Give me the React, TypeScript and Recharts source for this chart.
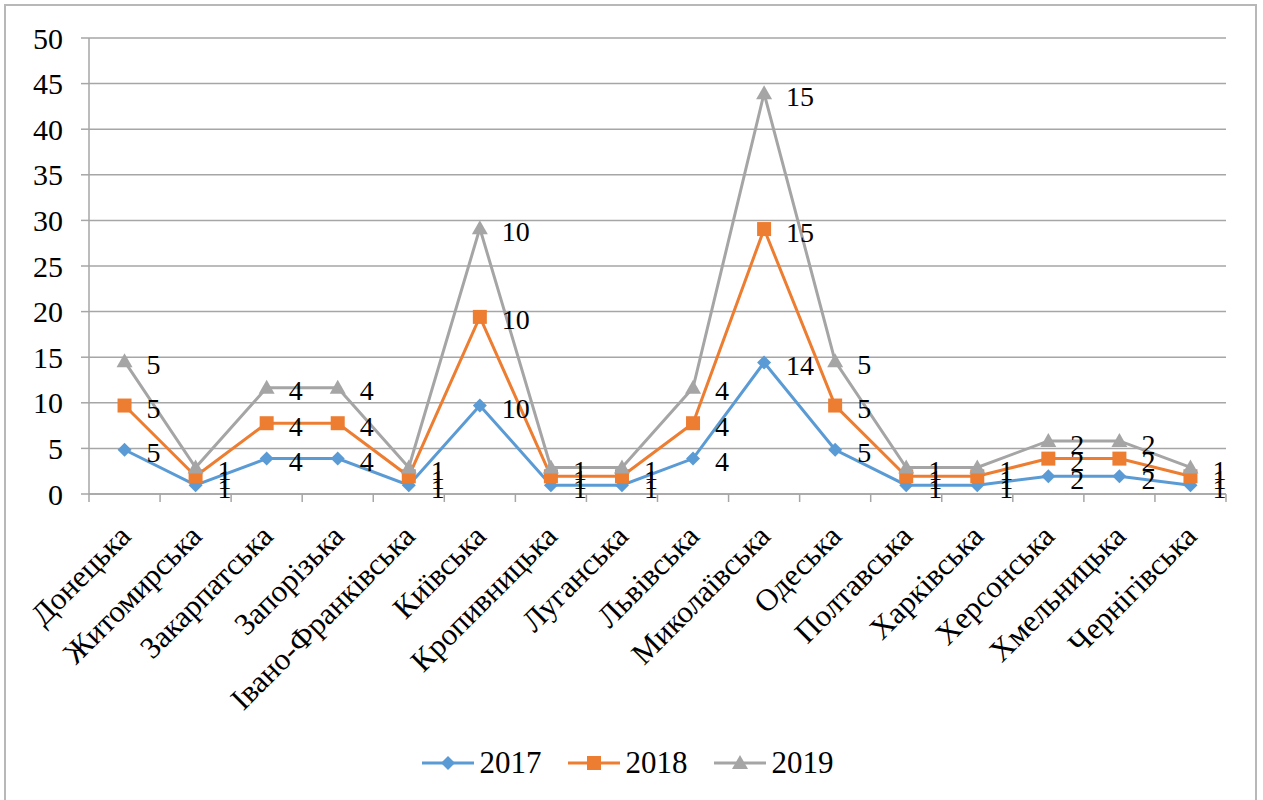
import React from 'react';
import { LineChart, Line, XAxis, YAxis, CartesianGrid, Legend, LabelList } from 'recharts';

const categories = [
  'Донецька', 'Житомирська', 'Закарпатська', 'Запорізька', 'Івано-Франківська',
  'Київська', 'Кропивницька', 'Луганська', 'Львівська', 'Миколаївська',
  'Одеська', 'Полтавська', 'Харківська', 'Херсонська', 'Хмельницька', 'Чернігівська',
];
const values2017 = [4.85, 0.97, 3.88, 3.88, 0.97, 9.71, 0.97, 0.97, 3.88, 14.42, 4.85, 0.97, 0.97, 1.94, 1.94, 0.97];
const values2018 = [4.85, 0.97, 3.88, 3.88, 0.97, 9.71, 0.97, 0.97, 3.88, 14.63, 4.85, 0.97, 0.97, 1.94, 1.94, 0.97];
const values2019 = [4.85, 0.97, 3.88, 3.88, 0.97, 9.71, 0.97, 0.97, 3.88, 14.89, 4.85, 0.97, 0.97, 1.94, 1.94, 0.97];
const yTicks = [0, 5, 10, 15, 20, 25, 30, 35, 40, 45, 50];

const FONT = '"Liberation Serif", "Times New Roman", serif';
const GRID = '#a6a6a6';
const BLUE = '#5b9bd5';
const ORANGE = '#ed7d31';
const GRAY = '#a5a5a5';

// stacked line: each series sits on top of the previous one
const chartData = categories.map((name, i) => ({
  name,
  r2017: values2017[i],
  r2018: values2018[i],
  r2019: values2019[i],
  s2017: values2017[i],
  s2018: values2017[i] + values2018[i],
  s2019: values2017[i] + values2018[i] + values2019[i],
}));

const marker = (kind: string, cx: number, cy: number, color: string, key?: any) => {
  if (kind === 'diamond') {
    return <path key={key} d={`M${cx},${cy - 7}L${cx + 7},${cy}L${cx},${cy + 7}L${cx - 7},${cy}Z`} fill={color} />;
  }
  if (kind === 'square') {
    return <rect key={key} x={cx - 7} y={cy - 7} width={14} height={14} fill={color} />;
  }
  return <path key={key} d={`M${cx},${cy - 8}L${cx + 8},${cy + 6}L${cx - 8},${cy + 6}Z`} fill={color} />;
};

const makeDot = (kind: string, color: string) => (p: any) => marker(kind, p.cx, p.cy, color, `${kind}-${p.index}`);

const renderLabel = (props: any) => {
  const vb = props.viewBox || {};
  const x = props.x ?? vb.x;
  const y = props.y ?? vb.y;
  return (
    <text x={x + 22} y={y} dy="0.45em" fontSize={28} fontFamily={FONT} fill="#000" textAnchor="start">
      {Math.round(Number(props.value))}
    </text>
  );
};

// category label, plus Excel-style tick marks between categories
const CategoryTick = (props: any) => {
  const { x, y, payload, index } = props;
  const half = payload.offset || 0;
  const axisY = y - 8;
  const ax = x + 8;
  const ay = y + 36;
  const last = index === categories.length - 1;
  return (
    <g>
      <line x1={x - half} y1={axisY} x2={x - half} y2={axisY + 8} stroke={GRID} strokeWidth={1.5} />
      {last && <line x1={x + half} y1={axisY} x2={x + half} y2={axisY + 8} stroke={GRID} strokeWidth={1.5} />}
      <text
        x={ax}
        y={ay}
        transform={`rotate(-45 ${ax} ${ay})`}
        textAnchor="end"
        fontSize={31}
        fontFamily={FONT}
        fill="#000"
      >
        {payload.value}
      </text>
    </g>
  );
};

const legendItems = [
  { label: '2017', color: BLUE, kind: 'diamond' },
  { label: '2018', color: ORANGE, kind: 'square' },
  { label: '2019', color: GRAY, kind: 'triangle' },
];

const LegendContent = () => (
  <div style={{ display: 'flex', justifyContent: 'center', alignItems: 'center', height: 40 }}>
    {legendItems.map((it) => (
      <div key={it.label} style={{ display: 'flex', alignItems: 'center', margin: '0 13px' }}>
        <svg width={52} height={20}>
          <line x1={0} y1={10} x2={52} y2={10} stroke={it.color} strokeWidth={3} />
          {marker(it.kind, 26, 10, it.color)}
        </svg>
        <span style={{ fontFamily: FONT, fontSize: 31, color: '#000', marginLeft: 6 }}>{it.label}</span>
      </div>
    ))}
  </div>
);

export default function App() {
  return (
    <div style={{ position: 'absolute', left: 0, top: 0, width: 1263, height: 800, overflow: 'hidden', background: '#fff' }}>
      <div
        style={{
          position: 'absolute', left: 4, top: 4, width: 1253, height: 900,
          border: '2px solid #b8b8b8', boxSizing: 'border-box',
        }}
      />
      <LineChart
        width={1263}
        height={800}
        data={chartData}
        margin={{ top: 38, right: 37, left: 29, bottom: 17 }}
        style={{ position: 'absolute', left: 0, top: 0 }}
      >
        <CartesianGrid vertical={false} stroke={GRID} strokeWidth={1.5} />
        <XAxis
          dataKey="name"
          scale="band"
          interval={0}
          height={249}
          stroke={GRID}
          strokeWidth={1.5}
          tickLine={false}
          tick={<CategoryTick />}
        />
        <YAxis
          domain={[0, 50]}
          ticks={yTicks}
          interval={0}
          width={60}
          tickSize={8}
          tickMargin={18}
          stroke={GRID}
          strokeWidth={1.5}
          tick={{ fill: '#000', fontSize: 30, fontFamily: FONT }}
        />
        <Legend verticalAlign="bottom" content={<LegendContent />} />
        <Line dataKey="s2017" stroke={BLUE} strokeWidth={3} dot={makeDot('diamond', BLUE)} activeDot={false} isAnimationActive={false}>
          <LabelList dataKey="r2017" content={renderLabel} />
        </Line>
        <Line dataKey="s2018" stroke={ORANGE} strokeWidth={3} dot={makeDot('square', ORANGE)} activeDot={false} isAnimationActive={false}>
          <LabelList dataKey="r2018" content={renderLabel} />
        </Line>
        <Line dataKey="s2019" stroke={GRAY} strokeWidth={3} dot={makeDot('triangle', GRAY)} activeDot={false} isAnimationActive={false}>
          <LabelList dataKey="r2019" content={renderLabel} />
        </Line>
      </LineChart>
    </div>
  );
}
